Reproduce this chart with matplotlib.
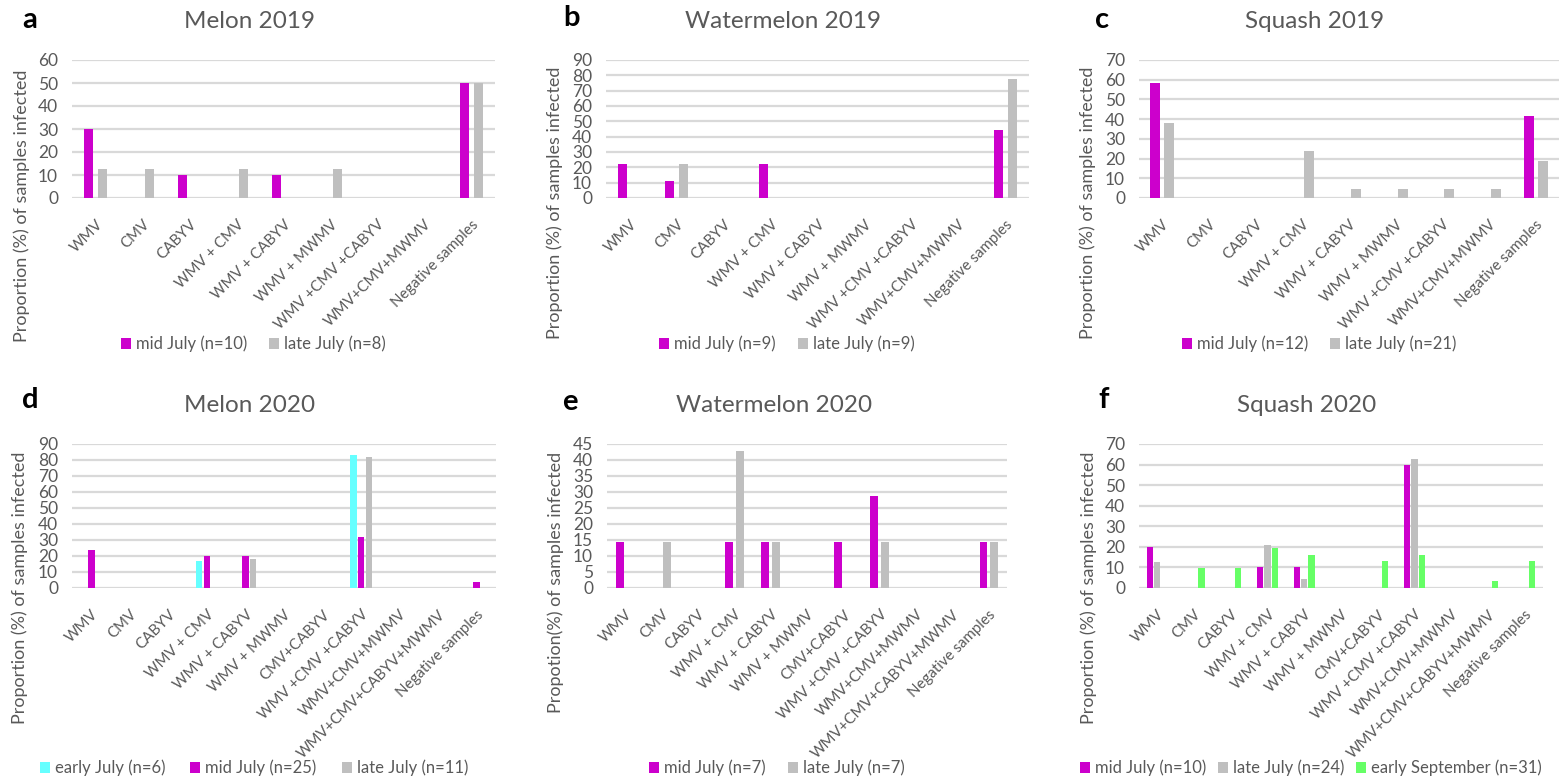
import numpy as np
import matplotlib
matplotlib.use("Agg")
import matplotlib.pyplot as plt
from matplotlib.patches import Patch

plt.rcParams['font.family'] = ['Lato', 'DejaVu Sans']

# categories
cats_2019 = ["WMV", "CMV", "CABYV", "WMV + CMV", "WMV + CABYV", "WMV + MWMV",
             "WMV +CMV +CABYV", "WMV+CMV+MWMV", "Negative samples"]
cats_2020 = ["WMV", "CMV", "CABYV", "WMV + CMV", "WMV + CABYV", "WMV + MWMV",
             "CMV+CABYV", "WMV +CMV +CABYV", "WMV+CMV+MWMV",
             "WMV+CMV+CABYV+MWMV", "Negative samples"]

# a - Melon 2019
melon19_mid = [30, 0, 10, 0, 10, 0, 0, 0, 50]
melon19_late = [12.5, 12.5, 0, 12.5, 0, 12.5, 0, 0, 50]
# b - Watermelon 2019
wmelon19_mid = [22.2, 11.1, 0, 22.2, 0, 0, 0, 0, 44.4]
wmelon19_late = [0, 22.2, 0, 0, 0, 0, 0, 0, 77.8]
# c - Squash 2019
squash19_mid = [58.3, 0, 0, 0, 0, 0, 0, 0, 41.7]
squash19_late = [38.1, 0, 0, 23.8, 4.8, 4.8, 4.8, 4.8, 19.0]
# d - Melon 2020
melon20_early = [0, 0, 0, 16.7, 0, 0, 0, 83.3, 0, 0, 0]
melon20_mid = [24, 0, 0, 20, 20, 0, 0, 32, 0, 0, 4]
melon20_late = [0, 0, 0, 0, 18.2, 0, 0, 81.8, 0, 0, 0]
# e - Watermelon 2020
wmelon20_mid = [14.3, 0, 0, 14.3, 14.3, 0, 14.3, 28.6, 0, 0, 14.3]
wmelon20_late = [0, 14.3, 0, 42.9, 14.3, 0, 0, 14.3, 0, 0, 14.3]
# f - Squash 2020
squash20_mid = [20, 0, 0, 10, 10, 0, 0, 60, 0, 0, 0]
squash20_late = [12.5, 0, 0, 20.8, 4.2, 0, 0, 62.5, 0, 0, 0]
squash20_sep = [0, 9.7, 9.7, 19.4, 16.1, 0, 12.9, 16.1, 0, 3.2, 12.9]

MAG = "#CC00CC"
GRAY = "#BFBFBF"
CYAN = "#66FFFF"
GREEN = "#66FF66"
TXT = "#595959"
GRID = "#D9D9D9"

W, H = 1566, 780
fig = plt.figure(figsize=(W / 100, H / 100), dpi=100)

YLAB = "Proportion (%) of samples infected"

panels = [
    # letter, title, cats, series, ymax, ystep, box(l,t,r,b), letter xy, title xy,
    # ylabel xy, legend xy, legend column spacing, ylabel
    ("a", "Melon 2019", cats_2019,
     [(melon19_mid, MAG, "mid July (n=10)"), (melon19_late, GRAY, "late July (n=8)")],
     60, 10, (72, 60, 495, 198), (22, 20), (250, 22), (22, 206), (253, 344), 1.3, YLAB),
    ("b", "Watermelon 2019", cats_2019,
     [(wmelon19_mid, MAG, "mid July (n=9)"), (wmelon19_late, GRAY, "late July (n=9)")],
     90, 10, (606, 60, 1029, 198), (563, 18), (783, 22), (555, 203), (787, 344), 1.3, YLAB),
    ("c", "Squash 2019", cats_2019,
     [(squash19_mid, MAG, "mid July (n=12)"), (squash19_late, GRAY, "late July (n=21)")],
     70, 10, (1139, 60, 1559, 198), (1095, 20), (1315, 22), (1088, 203), (1319, 344), 1.3, YLAB),
    ("d", "Melon 2020", cats_2020,
     [(melon20_early, CYAN, "early July (n=6)"), (melon20_mid, MAG, "mid July (n=25)"),
      (melon20_late, GRAY, "late July (n=11)")],
     90, 10, (72, 444, 496, 588), (22, 400), (250, 405), (20, 588), (254, 768), 1.5, YLAB),
    ("e", "Watermelon 2020", cats_2020,
     [(wmelon20_mid, MAG, "mid July (n=7)"), (wmelon20_late, GRAY, "late July (n=7)")],
     45, 5, (607, 444, 1007, 588), (562, 402), (774, 405), (556, 582), (777, 768), 1.3,
     "Propotion(%) of samples infected"),
    ("f", "Squash 2020", cats_2020,
     [(squash20_mid, MAG, "mid July (n=10)"), (squash20_late, GRAY, "late July (n=24)"),
      (squash20_sep, GREEN, "early September (n=31)")],
     70, 10, (1139, 444, 1543, 588), (1098, 400), (1307, 405), (1089, 588), (1311, 768), 0.7, YLAB),
]

for letter, title, cats, series, ymax, ystep, box, lxy, txy, yxy, legxy, colsp, ylab in panels:
    l, t, r, b = box
    ax = fig.add_axes([l / W, 1 - b / H, (r - l) / W, (b - t) / H])
    n = len(series)
    x = np.arange(len(cats))
    if n == 2:
        width, step = 0.21, 0.30
    else:
        width, step = 0.17, 0.20
    for i, (vals, col, lab) in enumerate(series):
        ax.bar(x + (i - (n - 1) / 2) * step, vals, width, color=col, zorder=3)
    ax.set_xlim(-0.5, len(cats) - 0.5)
    ax.set_ylim(0, ymax)
    ax.set_yticks(np.arange(0, ymax + 1, ystep))
    ax.yaxis.grid(True, color=GRID, linewidth=1.6, zorder=0)
    ax.set_axisbelow(True)
    for s in ax.spines.values():
        s.set_visible(False)
    ax.tick_params(axis="y", length=0, labelsize=12.5, colors=TXT, pad=10)
    ax.set_xticks(x)
    ax.set_xticklabels(cats, rotation=45, ha="right", rotation_mode="anchor",
                       fontsize=10.8, color=TXT)
    ax.tick_params(axis="x", length=0, pad=14)

    fig.text(lxy[0] / W, 1 - lxy[1] / H, letter, fontsize=21, fontweight="bold",
             color="black", ha="left", va="center")
    fig.text(txy[0] / W, 1 - txy[1] / H, title, fontsize=17.5, color=TXT,
             ha="center", va="center")
    fig.text(yxy[0] / W, 1 - yxy[1] / H, ylab, fontsize=13, color=TXT,
             rotation=90, ha="center", va="center")
    handles = [Patch(facecolor=c, edgecolor="none", label=lab) for _, c, lab in series]
    fig.legend(handles=handles, loc="center", bbox_to_anchor=(legxy[0] / W, 1 - legxy[1] / H),
               ncol=n, frameon=False, fontsize=12, labelcolor=TXT,
               handlelength=0.6, handleheight=0.6, handletextpad=0.3, columnspacing=colsp)

fig.savefig("out.png", dpi=100, facecolor="white")
